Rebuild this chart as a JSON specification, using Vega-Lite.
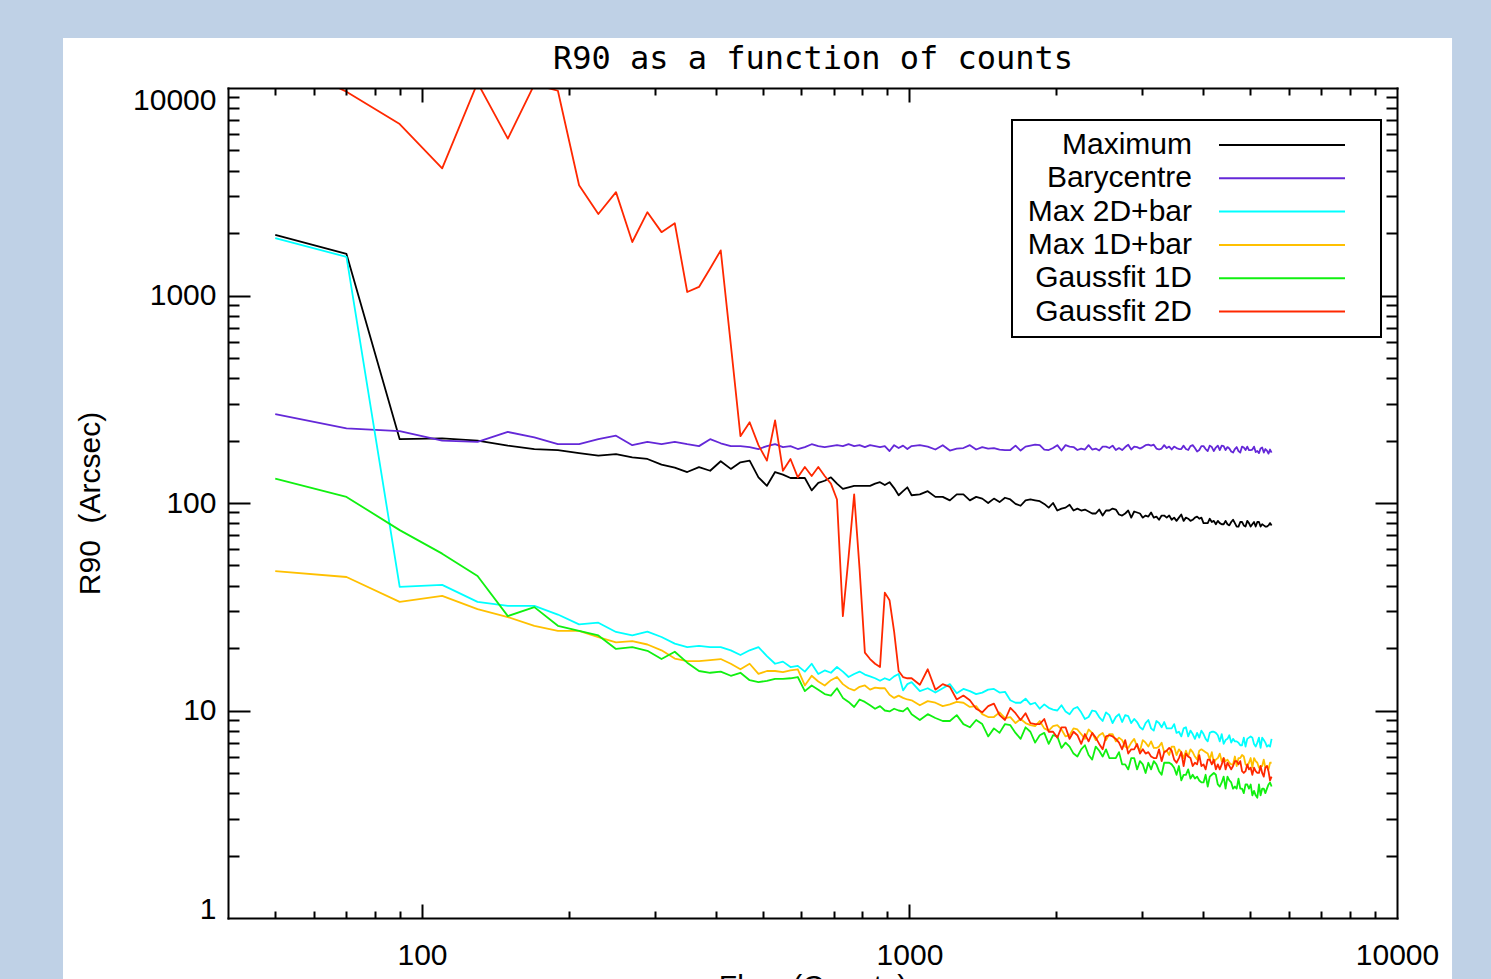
{
"$schema":"https://vega.github.io/schema/vega-lite/v6.json",
"width":1169,"height":830,
"autosize":{"type":"none"},
"padding":{"left":228,"top":88,"right":94,"bottom":61},
"background":"#bfd1e6",
"config":{"view":{"stroke":"black","strokeWidth":2},"legend":{"strokeWidth":2}},
"resolve":{"axis":{"x":"independent","y":"independent"}},
"datasets":{"d":[
{"x":50,"max":1960,"bary":268,"max2d":1890,"max1d":47,"g1d":131,"g2d":14000},
{"x":70,"max":1585,"bary":229,"max2d":1535,"max1d":44,"g1d":107,"g2d":9600},
{"x":90,"max":203,"bary":222,"max2d":39.4,"max1d":33.4,"g1d":74,"g2d":6700},
{"x":110,"max":205,"bary":200,"max2d":40.3,"max1d":35.7,"g1d":57,"g2d":4100},
{"x":130,"max":200,"bary":197,"max2d":33.4,"max1d":30.8,"g1d":44.5,"g2d":10600},
{"x":150,"max":189,"bary":220,"max2d":31.9,"max1d":28.2,"g1d":28.5,"g2d":5700},
{"x":170,"max":182,"bary":207,"max2d":31.9,"max1d":25.6,"g1d":31.5,"g2d":10400},
{"x":190,"max":180,"bary":192,"max2d":29,"max1d":24.2,"g1d":25.6,"g2d":9700},
{"x":210,"max":174,"bary":192,"max2d":26,"max1d":24.2,"g1d":24.2,"g2d":3400},
{"x":230,"max":169,"bary":203,"max2d":26.5,"max1d":22.6,"g1d":23,"g2d":2470},
{"x":250,"max":172,"bary":211,"max2d":23.9,"max1d":21.3,"g1d":19.8,"g2d":3150},
{"x":270,"max":166,"bary":190,"max2d":23,"max1d":21.6,"g1d":20.2,"g2d":1810},
{"x":290,"max":163,"bary":197,"max2d":24,"max1d":20.8,"g1d":19.4,"g2d":2520},
{"x":310,"max":153,"bary":192,"max2d":22.6,"max1d":19.5,"g1d":17.7,"g2d":2020},
{"x":330,"max":148,"bary":197,"max2d":21,"max1d":17.8,"g1d":19.2,"g2d":2230},
{"x":350,"max":141,"bary":192,"max2d":20.2,"max1d":17.3,"g1d":17,"g2d":1040},
{"x":370,"max":149,"bary":188,"max2d":20.5,"max1d":17.3,"g1d":15.5,"g2d":1100},
{"x":390,"max":143,"bary":203,"max2d":20.2,"max1d":17.5,"g1d":15.2,"g2d":1350},
{"x":410,"max":159,"bary":194,"max2d":20.2,"max1d":17.7,"g1d":15.4,"g2d":1650},
{"x":430,"max":146,"bary":188,"max2d":19.5,"max1d":16.8,"g1d":14.7,"g2d":580},
{"x":450,"max":157,"bary":188,"max2d":18.5,"max1d":15.8,"g1d":15.2,"g2d":210},
{"x":470,"max":160,"bary":186,"max2d":19.5,"max1d":16.8,"g1d":14.0,"g2d":245},
{"x":490,"max":133,"bary":182,"max2d":20.2,"max1d":15.0,"g1d":13.7,"g2d":190},
{"x":510,"max":121,"bary":188,"max2d":18.3,"max1d":15.5,"g1d":13.9,"g2d":160},
{"x":530,"max":141,"bary":192,"max2d":16.8,"max1d":15.5,"g1d":14.2,"g2d":250},
{"x":550,"max":137,"bary":186,"max2d":17.2,"max1d":15.3,"g1d":14.2,"g2d":143},
{"x":570,"max":132,"bary":188,"max2d":16.2,"max1d":15.6,"g1d":14.3,"g2d":163},
{"x":590,"max":132,"bary":182,"max2d":16.4,"max1d":15.8,"g1d":14.5,"g2d":133},
{"x":610,"max":132,"bary":186,"max2d":15.4,"max1d":13.2,"g1d":12.4,"g2d":149},
{"x":630,"max":115,"bary":192,"max2d":16.8,"max1d":14.7,"g1d":13.2,"g2d":135},
{"x":650,"max":125,"bary":188,"max2d":15.0,"max1d":13.8,"g1d":12.6,"g2d":149},
{"x":670,"max":128,"bary":186,"max2d":15.6,"max1d":13.2,"g1d":12.0,"g2d":135},
{"x":690,"max":133,"bary":188,"max2d":15.2,"max1d":14.0,"g1d":11.8,"g2d":124},
{"x":710,"max":124,"bary":190,"max2d":16.2,"max1d":14.5,"g1d":12.8,"g2d":104},
{"x":730,"max":117,"bary":188,"max2d":15.4,"max1d":13.4,"g1d":11.5,"g2d":28.5},
{"x":750,"max":119,"bary":192,"max2d":14.5,"max1d":12.8,"g1d":11.0,"g2d":55},
{"x":770,"max":121,"bary":188,"max2d":15.0,"max1d":12.5,"g1d":10.4,"g2d":110},
{"x":790,"max":121,"bary":190,"max2d":15.4,"max1d":13.0,"g1d":11.3,"g2d":48},
{"x":810,"max":121,"bary":186,"max2d":14.9,"max1d":13.2,"g1d":11.0,"g2d":19},
{"x":830,"max":121,"bary":190,"max2d":14.6,"max1d":12.6,"g1d":10.6,"g2d":17.7},
{"x":850,"max":124,"bary":188,"max2d":14.3,"max1d":12.9,"g1d":10.2,"g2d":16.8},
{"x":870,"max":126,"bary":186,"max2d":13.9,"max1d":12.8,"g1d":10.5,"g2d":16.2},
{"x":890,"max":122,"bary":188,"max2d":14.3,"max1d":12.8,"g1d":10.0,"g2d":37},
{"x":910,"max":126,"bary":178,"max2d":14.0,"max1d":11.9,"g1d":9.9,"g2d":34},
{"x":930,"max":118,"bary":190,"max2d":14.6,"max1d":11.5,"g1d":10.2,"g2d":24},
{"x":950,"max":109,"bary":184,"max2d":15.0,"max1d":11.8,"g1d":10.0,"g2d":15.5},
{"x":970,"max":114,"bary":189,"max2d":12.5,"max1d":11.5,"g1d":9.9,"g2d":14.5},
{"x":990,"max":119,"bary":182,"max2d":13.4,"max1d":11.3,"g1d":10.3,"g2d":14.3},
{"x":1010,"max":109,"bary":188,"max2d":13.7,"max1d":11.2,"g1d":9.6,"g2d":14.3},
{"x":1050,"max":110,"bary":190,"max2d":12.4,"max1d":10.6,"g1d":9.0,"g2d":13.3},
{"x":1090,"max":114,"bary":187,"max2d":12.8,"max1d":11.1,"g1d":9.6,"g2d":15.8},
{"x":1130,"max":107,"bary":181,"max2d":12.2,"max1d":10.9,"g1d":9.2,"g2d":12.6},
{"x":1170,"max":107,"bary":190,"max2d":12.8,"max1d":10.5,"g1d":8.9,"g2d":13.4},
{"x":1210,"max":103,"bary":179,"max2d":13.4,"max1d":10.7,"g1d":8.9,"g2d":13.0},
{"x":1250,"max":110,"bary":183,"max2d":12.1,"max1d":11.0,"g1d":9.5,"g2d":11.3},
{"x":1290,"max":110,"bary":184,"max2d":12.7,"max1d":10.9,"g1d":8.6,"g2d":11.8},
{"x":1330,"max":103,"bary":190,"max2d":12.4,"max1d":10.4,"g1d":8.3,"g2d":11.2},
{"x":1370,"max":107,"bary":181,"max2d":12.0,"max1d":10.5,"g1d":9.0,"g2d":10.2},
{"x":1410,"max":105,"bary":186,"max2d":12.2,"max1d":9.6,"g1d":8.6,"g2d":9.8},
{"x":1450,"max":100,"bary":183,"max2d":12.6,"max1d":9.3,"g1d":7.5,"g2d":10.5},
{"x":1490,"max":105,"bary":184,"max2d":12.7,"max1d":9.3,"g1d":8.2,"g2d":10.8},
{"x":1530,"max":101,"bary":181,"max2d":12.2,"max1d":9.8,"g1d":7.8,"g2d":9.5},
{"x":1570,"max":106,"bary":180,"max2d":12.3,"max1d":9.2,"g1d":8.6,"g2d":9.0},
{"x":1610,"max":104,"bary":180,"max2d":11.2,"max1d":9.3,"g1d":8.5,"g2d":10.3},
{"x":1650,"max":99,"bary":189,"max2d":10.9,"max1d":8.7,"g1d":7.8,"g2d":9.7},
{"x":1690,"max":97,"bary":179,"max2d":10.9,"max1d":9.1,"g1d":7.3,"g2d":9.0},
{"x":1730,"max":103,"bary":187,"max2d":11.4,"max1d":8.7,"g1d":8.3,"g2d":9.7},
{"x":1770,"max":104,"bary":189,"max2d":10.7,"max1d":8.5,"g1d":7.9,"g2d":8.7},
{"x":1810,"max":103,"bary":191,"max2d":10.9,"max1d":8.4,"g1d":7.0,"g2d":8.6},
{"x":1850,"max":102,"bary":190,"max2d":10.2,"max1d":8.9,"g1d":7.6,"g2d":8.6},
{"x":1890,"max":99,"bary":181,"max2d":10.7,"max1d":8.2,"g1d":7.8,"g2d":9.1},
{"x":1930,"max":95,"bary":180,"max2d":10.3,"max1d":8.0,"g1d":6.9,"g2d":7.9},
{"x":1970,"max":100,"bary":184,"max2d":10.1,"max1d":8.4,"g1d":7.6,"g2d":7.9},
{"x":2010,"max":92,"bary":190,"max2d":10.0,"max1d":8.5,"g1d":7.5,"g2d":7.4},
{"x":2050,"max":94,"bary":179,"max2d":10.6,"max1d":8.1,"g1d":6.6,"g2d":8.3},
{"x":2090,"max":95,"bary":190,"max2d":9.9,"max1d":7.5,"g1d":7.0,"g2d":8.3},
{"x":2130,"max":98,"bary":187,"max2d":9.6,"max1d":7.6,"g1d":6.7,"g2d":7.3},
{"x":2170,"max":92,"bary":186,"max2d":10.2,"max1d":8.2,"g1d":6.2,"g2d":7.9},
{"x":2210,"max":94,"bary":180,"max2d":10.4,"max1d":8.1,"g1d":6.0,"g2d":7.6},
{"x":2250,"max":92,"bary":183,"max2d":9.8,"max1d":7.7,"g1d":6.5,"g2d":6.9},
{"x":2290,"max":93,"bary":181,"max2d":9.1,"max1d":7.3,"g1d":6.8,"g2d":7.7},
{"x":2330,"max":91,"bary":190,"max2d":9.3,"max1d":8.1,"g1d":6.1,"g2d":7.1},
{"x":2370,"max":89,"bary":181,"max2d":10.0,"max1d":7.8,"g1d":5.8,"g2d":7.8},
{"x":2410,"max":89,"bary":183,"max2d":9.9,"max1d":7.2,"g1d":6.7,"g2d":7.4},
{"x":2450,"max":93,"bary":179,"max2d":9.3,"max1d":7.6,"g1d":6.4,"g2d":6.9},
{"x":2490,"max":87,"bary":187,"max2d":8.9,"max1d":7.8,"g1d":6.0,"g2d":6.5},
{"x":2530,"max":92,"bary":187,"max2d":9.8,"max1d":7.2,"g1d":6.5,"g2d":7.5},
{"x":2570,"max":92,"bary":184,"max2d":9.5,"max1d":7.7,"g1d":5.9,"g2d":7.6},
{"x":2610,"max":94,"bary":189,"max2d":8.7,"max1d":7.7,"g1d":5.9,"g2d":7.5},
{"x":2650,"max":93,"bary":180,"max2d":9.3,"max1d":7.1,"g1d":5.9,"g2d":7.3},
{"x":2690,"max":88,"bary":184,"max2d":9.6,"max1d":7.4,"g1d":6.3,"g2d":7.0},
{"x":2730,"max":87,"bary":180,"max2d":8.8,"max1d":7.2,"g1d":5.5,"g2d":6.5},
{"x":2770,"max":89,"bary":186,"max2d":9.5,"max1d":6.7,"g1d":5.5,"g2d":7.2},
{"x":2810,"max":92,"bary":191,"max2d":9.4,"max1d":6.6,"g1d":5.2,"g2d":6.2},
{"x":2850,"max":85,"bary":181,"max2d":8.7,"max1d":7.0,"g1d":5.9,"g2d":6.5},
{"x":2890,"max":91,"bary":187,"max2d":9.1,"max1d":7.3,"g1d":5.9,"g2d":6.5},
{"x":2930,"max":90,"bary":186,"max2d":8.8,"max1d":6.7,"g1d":5.2,"g2d":6.9},
{"x":2970,"max":89,"bary":183,"max2d":8.3,"max1d":6.4,"g1d":5.7,"g2d":6.2},
{"x":3010,"max":85,"bary":186,"max2d":8.1,"max1d":7.2,"g1d":5.5,"g2d":6.5},
{"x":3050,"max":87,"bary":190,"max2d":8.7,"max1d":7.0,"g1d":5.0,"g2d":6.2},
{"x":3090,"max":86,"bary":191,"max2d":9.0,"max1d":6.7,"g1d":5.6,"g2d":6.3},
{"x":3130,"max":90,"bary":189,"max2d":8.2,"max1d":7.1,"g1d":5.2,"g2d":6.0},
{"x":3170,"max":85,"bary":191,"max2d":8.0,"max1d":6.6,"g1d":5.7,"g2d":5.9},
{"x":3210,"max":86,"bary":183,"max2d":8.9,"max1d":6.6,"g1d":5.5,"g2d":5.9},
{"x":3250,"max":83,"bary":181,"max2d":8.7,"max1d":6.7,"g1d":5.1,"g2d":6.5},
{"x":3290,"max":87,"bary":183,"max2d":8.3,"max1d":7.0,"g1d":4.9,"g2d":5.7},
{"x":3330,"max":87,"bary":190,"max2d":8.8,"max1d":6.3,"g1d":5.6,"g2d":6.3},
{"x":3370,"max":85,"bary":184,"max2d":8.2,"max1d":6.4,"g1d":5.6,"g2d":6.4},
{"x":3410,"max":87,"bary":187,"max2d":8.2,"max1d":6.1,"g1d":5.6,"g2d":6.6},
{"x":3450,"max":83,"bary":181,"max2d":8.2,"max1d":6.7,"g1d":5.5,"g2d":6.4},
{"x":3490,"max":85,"bary":187,"max2d":8.6,"max1d":6.7,"g1d":5.3,"g2d":5.8},
{"x":3530,"max":82,"bary":184,"max2d":7.8,"max1d":6.1,"g1d":4.9,"g2d":5.6},
{"x":3570,"max":85,"bary":182,"max2d":7.9,"max1d":6.5,"g1d":5.4,"g2d":5.9},
{"x":3610,"max":88,"bary":182,"max2d":7.5,"max1d":6.3,"g1d":4.6,"g2d":6.3},
{"x":3650,"max":82,"bary":189,"max2d":8.2,"max1d":5.9,"g1d":4.9,"g2d":5.4},
{"x":3690,"max":85,"bary":182,"max2d":8.3,"max1d":6.4,"g1d":4.9,"g2d":6.2},
{"x":3730,"max":84,"bary":180,"max2d":7.5,"max1d":6.0,"g1d":5.2,"g2d":6.0},
{"x":3770,"max":82,"bary":188,"max2d":8.0,"max1d":6.5,"g1d":4.7,"g2d":5.9},
{"x":3810,"max":83,"bary":190,"max2d":7.7,"max1d":6.3,"g1d":4.9,"g2d":5.4},
{"x":3850,"max":85,"bary":184,"max2d":7.3,"max1d":6.0,"g1d":4.7,"g2d":5.6},
{"x":3890,"max":86,"bary":177,"max2d":7.8,"max1d":5.8,"g1d":4.8,"g2d":5.5},
{"x":3930,"max":84,"bary":180,"max2d":7.4,"max1d":6.4,"g1d":4.6,"g2d":6.1},
{"x":3970,"max":85,"bary":188,"max2d":8.0,"max1d":6.5,"g1d":4.5,"g2d":5.4},
{"x":4010,"max":80,"bary":188,"max2d":7.7,"max1d":6.4,"g1d":4.5,"g2d":5.5},
{"x":4050,"max":80,"bary":182,"max2d":7.3,"max1d":6.3,"g1d":4.9,"g2d":5.2},
{"x":4090,"max":80,"bary":178,"max2d":7.1,"max1d":6.2,"g1d":4.3,"g2d":5.8},
{"x":4130,"max":84,"bary":189,"max2d":7.8,"max1d":5.8,"g1d":4.8,"g2d":5.8},
{"x":4170,"max":81,"bary":186,"max2d":7.9,"max1d":6.3,"g1d":4.9,"g2d":5.5},
{"x":4210,"max":82,"bary":178,"max2d":7.9,"max1d":5.6,"g1d":5.0,"g2d":5.8},
{"x":4250,"max":79,"bary":185,"max2d":7.8,"max1d":5.8,"g1d":4.9,"g2d":5.2},
{"x":4290,"max":82,"bary":189,"max2d":7.6,"max1d":5.9,"g1d":4.4,"g2d":5.5},
{"x":4330,"max":80,"bary":180,"max2d":7.1,"max1d":6.2,"g1d":4.3,"g2d":5.2},
{"x":4370,"max":79,"bary":189,"max2d":7.7,"max1d":5.7,"g1d":4.5,"g2d":5.5},
{"x":4410,"max":79,"bary":188,"max2d":6.9,"max1d":5.9,"g1d":4.8,"g2d":5.9},
{"x":4450,"max":82,"bary":180,"max2d":7.2,"max1d":5.7,"g1d":4.2,"g2d":5.2},
{"x":4490,"max":79,"bary":186,"max2d":7.3,"max1d":5.8,"g1d":4.8,"g2d":5.6},
{"x":4530,"max":78,"bary":183,"max2d":7.6,"max1d":5.6,"g1d":4.6,"g2d":5.4},
{"x":4570,"max":81,"bary":177,"max2d":7.0,"max1d":5.5,"g1d":4.5,"g2d":5.2},
{"x":4610,"max":83,"bary":175,"max2d":7.3,"max1d":5.5,"g1d":4.2,"g2d":5.4},
{"x":4650,"max":80,"bary":182,"max2d":7.1,"max1d":6.0,"g1d":4.3,"g2d":5.7},
{"x":4690,"max":77,"bary":186,"max2d":7.1,"max1d":5.4,"g1d":4.2,"g2d":5.7},
{"x":4730,"max":77,"bary":178,"max2d":7.0,"max1d":5.9,"g1d":4.7,"g2d":5.5},
{"x":4770,"max":81,"bary":175,"max2d":6.8,"max1d":5.9,"g1d":4.2,"g2d":5.7},
{"x":4810,"max":81,"bary":187,"max2d":6.8,"max1d":6.1,"g1d":4.2,"g2d":5.1},
{"x":4850,"max":78,"bary":185,"max2d":7.4,"max1d":6.0,"g1d":4.0,"g2d":5.0},
{"x":4890,"max":77,"bary":180,"max2d":6.7,"max1d":5.5,"g1d":4.4,"g2d":5.1},
{"x":4930,"max":82,"bary":187,"max2d":7.3,"max1d":5.4,"g1d":4.4,"g2d":5.5},
{"x":4970,"max":80,"bary":180,"max2d":7.4,"max1d":5.6,"g1d":4.2,"g2d":5.2},
{"x":5010,"max":77,"bary":180,"max2d":7.5,"max1d":5.9,"g1d":4.4,"g2d":5.3},
{"x":5050,"max":79,"bary":181,"max2d":7.4,"max1d":5.3,"g1d":3.9,"g2d":4.9},
{"x":5090,"max":81,"bary":187,"max2d":6.9,"max1d":5.9,"g1d":4.1,"g2d":5.3},
{"x":5130,"max":77,"bary":176,"max2d":6.7,"max1d":5.7,"g1d":3.9,"g2d":5.1},
{"x":5170,"max":81,"bary":178,"max2d":7.0,"max1d":5.6,"g1d":3.8,"g2d":5.0},
{"x":5210,"max":81,"bary":174,"max2d":7.4,"max1d":5.3,"g1d":4.4,"g2d":5.0},
{"x":5250,"max":77,"bary":183,"max2d":6.6,"max1d":5.4,"g1d":3.9,"g2d":5.4},
{"x":5290,"max":79,"bary":185,"max2d":7.4,"max1d":5.4,"g1d":4.2,"g2d":5.0},
{"x":5330,"max":78,"bary":175,"max2d":7.2,"max1d":5.8,"g1d":4.2,"g2d":4.8},
{"x":5370,"max":77,"bary":182,"max2d":7.0,"max1d":5.3,"g1d":4.0,"g2d":5.3},
{"x":5410,"max":77,"bary":179,"max2d":6.7,"max1d":5.4,"g1d":4.2,"g2d":5.4},
{"x":5450,"max":78,"bary":173,"max2d":6.8,"max1d":5.2,"g1d":4.4,"g2d":5.1},
{"x":5490,"max":80,"bary":181,"max2d":6.7,"max1d":5.6,"g1d":4.5,"g2d":4.6},
{"x":5530,"max":78,"bary":175,"max2d":7.3,"max1d":5.6,"g1d":4.3,"g2d":4.8}
]},
"layer":[
{
"data":{"values":[{}]},
"mark":{"type":"rect","fill":"white"},
"encoding":{
"x":{"datum":18.35,"type":"quantitative","scale":{"type":"log","domain":[40,10000],"nice":false},
"axis":{"orient":"bottom","values":[100,1000,10000],"format":"d","ticks":false,"domain":false,"grid":false,"labelFlush":false,"labelOverlap":false,"labelFont":"Liberation Sans","labelFontSize":30,"labelColor":"black","labelPadding":22,"title":"Flux\u00a0\u00a0(Counts)","titleFont":"Liberation Sans","titleFontSize":30,"titleFontWeight":"normal","titleColor":"black","titlePadding":1,"zindex":1}},
"x2":{"datum":12969},
"y":{"datum":17400,"type":"quantitative","scale":{"type":"log","domain":[1,10000],"nice":false},
"axis":{"orient":"left","values":[1,10,100,1000,10000],"format":"d","ticks":false,"domain":false,"grid":false,"labelOverlap":false,"labelFont":"Liberation Sans","labelFontSize":30,"labelColor":"black","labelPadding":12,
"labelBaseline":{"condition":[{"test":"datum.value == 1","value":"alphabetic"},{"test":"datum.value == 10000","value":"top"}],"value":"middle"},
"labelOffset":{"condition":{"test":"datum.value == 10000","value":-3},"value":0},
"title":"R90\u00a0\u00a0(Arcsec)","titleFont":"Liberation Sans","titleFontSize":30,"titleFontWeight":"normal","titleColor":"black","titlePadding":27,"zindex":1}},
"y2":{"datum":0.3}
}
},
{
"data":{"name":"d"},
"transform":[{"fold":["max","bary","max2d"],"as":["key","value"]}],
"mark":{"type":"line","clip":true,"strokeWidth":1.8,"strokeJoin":"round"},
"encoding":{
"x":{"field":"x","type":"quantitative","scale":{"type":"log","domain":[40,10000],"nice":false},
"axis":{"orient":"top","values":[50,60,70,80,90,100,200,300,400,500,600,700,800,900,1000,2000,3000,4000,5000,6000,7000,8000,9000],"labels":false,"domain":true,"domainColor":"black","domainWidth":2,"domainCap":"square","grid":false,"ticks":true,"tickColor":"black","tickWidth":2,"tickSize":{"condition":{"test":"datum.value == 100 || datum.value == 1000","value":-14},"value":-7},"zindex":1,
"title":"R90 as a function of counts","titleFont":"DejaVu Sans Mono","titleFontSize":32,"titleFontWeight":"normal","titleColor":"black","titlePadding":12,"titleAnchor":"middle"}},
"y":{"field":"value","type":"quantitative","scale":{"type":"log","domain":[1,10000],"nice":false},
"axis":{"orient":"right","values":[2,3,4,5,6,7,8,9,10,20,30,40,50,60,70,80,90,100,200,300,400,500,600,700,800,900,1000,2000,3000,4000,5000,6000,7000,8000,9000],"labels":false,"domain":true,"domainColor":"black","domainWidth":2,"domainCap":"square","grid":false,"title":null,"ticks":true,"tickColor":"black","tickWidth":2,"tickSize":{"condition":{"test":"datum.value == 10 || datum.value == 100 || datum.value == 1000","value":-22},"value":-11},"zindex":1}},
"color":{"field":"key","type":"nominal","scale":{"domain":["max","bary","max2d","max1d","g1d","g2d"],"range":["#000000","#6428d8","#00ffff","#ffc000","#10f010","#ff2800"]},
"legend":{"orient":"none","legendX":784,"legendY":32,"title":null,"symbolType":"M36.4,0H61.6M66,0L66,0","symbolSize":100,"symbolStrokeWidth":2,"labelFont":"Liberation Sans","labelFontSize":30,"labelColor":"black","labelAlign":"right","labelOffset":140,"labelLimit":400,"rowPadding":3.3,"padding":10,"strokeColor":"black","fillColor":"white","zindex":2,
"labelExpr":"datum.label == 'max' ? 'Maximum' : datum.label == 'bary' ? 'Barycentre' : datum.label == 'max2d' ? 'Max 2D+bar' : datum.label == 'max1d' ? 'Max 1D+bar' : datum.label == 'g1d' ? 'Gaussfit 1D' : 'Gaussfit 2D'"}}
}
},
{
"data":{"name":"d"},
"transform":[{"fold":["max1d","g1d","g2d"],"as":["key","value"]}],
"mark":{"type":"line","clip":true,"strokeWidth":1.8,"strokeJoin":"round"},
"encoding":{
"x":{"field":"x","type":"quantitative","scale":{"type":"log","domain":[40,10000],"nice":false},
"axis":{"orient":"bottom","values":[50,60,70,80,90,100,200,300,400,500,600,700,800,900,1000,2000,3000,4000,5000,6000,7000,8000,9000],"labels":false,"domain":true,"domainColor":"black","domainWidth":2,"domainCap":"square","grid":false,"title":null,"ticks":true,"tickColor":"black","tickWidth":2,"tickSize":{"condition":{"test":"datum.value == 100 || datum.value == 1000","value":-14},"value":-7},"zindex":1}},
"y":{"field":"value","type":"quantitative","scale":{"type":"log","domain":[1,10000],"nice":false},
"axis":{"orient":"left","values":[2,3,4,5,6,7,8,9,10,20,30,40,50,60,70,80,90,100,200,300,400,500,600,700,800,900,1000,2000,3000,4000,5000,6000,7000,8000,9000],"labels":false,"domain":true,"domainColor":"black","domainWidth":2,"domainCap":"square","grid":false,"title":null,"ticks":true,"tickColor":"black","tickWidth":2,"tickSize":{"condition":{"test":"datum.value == 10 || datum.value == 100 || datum.value == 1000","value":-22},"value":-11},"zindex":1}},
"color":{"field":"key","type":"nominal","scale":{"domain":["max","bary","max2d","max1d","g1d","g2d"],"range":["#000000","#6428d8","#00ffff","#ffc000","#10f010","#ff2800"]},
"legend":{"orient":"none","legendX":784,"legendY":32,"title":null,"symbolType":"M36.4,0H61.6M66,0L66,0","symbolSize":100,"symbolStrokeWidth":2,"labelFont":"Liberation Sans","labelFontSize":30,"labelColor":"black","labelAlign":"right","labelOffset":140,"labelLimit":400,"rowPadding":3.3,"padding":10,"strokeColor":"black","fillColor":"white","zindex":2,
"labelExpr":"datum.label == 'max' ? 'Maximum' : datum.label == 'bary' ? 'Barycentre' : datum.label == 'max2d' ? 'Max 2D+bar' : datum.label == 'max1d' ? 'Max 1D+bar' : datum.label == 'g1d' ? 'Gaussfit 1D' : 'Gaussfit 2D'"}}
}
}
]
}
